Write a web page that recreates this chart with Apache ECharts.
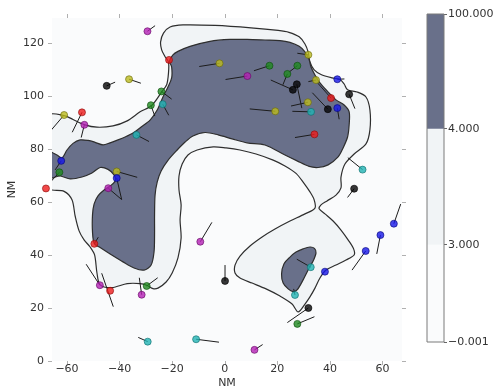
<!DOCTYPE html>
<html>
<head>
<meta charset="utf-8">
<script src="https://cdn.jsdelivr.net/npm/echarts@6/dist/echarts.min.js"></script>
<style>
  html, body { margin: 0; padding: 0; background: #ffffff; }
  #chart { width: 494px; height: 390px; }
</style>
</head>
<body>
<div id="chart"></div>
<script>
// ---- axis ticks (NM) ----
const xTicks = [-60, -40, -20, 0, 20, 40, 60];
const yTicks = [0, 20, 40, 60, 80, 100, 120];

// ---- contour levels and colour bar ----
const levelLabels = ['\u22120.001', '3.000', '4.000', '100.000'];
const levelColors = ['#fafbfc', '#f1f4f6', '#69708a'];
const cbEdges = [0, 0.84, 1.84, 2.83];   // where each level boundary sits on the bar

// ---- contour outlines, in NM ----
// level 3 (light band) outline
const level3Outline = [
  [-67,92.6],[-61.1,92.6],[-57.7,91.1],[-53.5,89.2],[-48.6,88.2],[-42.5,88.7],[-37.1,90.6],[-32.2,94.0],
  [-27.8,96.4],[-24.0,101.5],[-22.1,104.2],[-21.4,108.7],[-21.4,112.8],[-22.7,114.8],[-24.0,117.4],[-24.4,120.4],
  [-23.3,123.7],[-20.8,126.0],[-15.9,126.8],[-3.7,126.6],[10.0,125.7],[20.3,124.7],[24.4,124.0],[28.3,122.3],
  [30.5,119.6],[31.7,116.6],[32.4,112.8],[34.0,109.8],[36.6,108.1],[40.8,106.8],[43.8,106.2],[45.4,104.5],
  [46.7,102.3],[50.3,101.5],[53.7,99.6],[55.2,94.7],[55.2,87.2],[53.7,81.9],[49.2,78.1],[45.7,74.3],
  [44.2,69.4],[44.2,65.3],[42.3,62.6],[38.9,60.4],[36.6,58.9],[35.9,57.4],[38.1,55.5],[41.2,52.8],
  [44.2,49.4],[46.9,45.7],[49.0,42.3],[49.2,40.0],[46.1,38.1],[42.3,36.2],[38.5,34.3],[36.2,31.3],
  [34.3,27.5],[32.4,24.2],[30.5,21.5],[27.9,18.5],[25.6,21.5],[21.0,24.5],[15.7,27.2],[10.4,29.4],
  [5.8,31.3],[3.9,33.2],[3.9,36.2],[5.8,39.6],[9.6,43.4],[14.2,46.8],[19.1,49.8],[24.8,52.8],
  [30.5,55.5],[34.3,57.7],[34.0,60.8],[32.4,63.8],[29.8,67.5],[27.1,70.8],[22.9,73.6],[18.4,75.8],
  [11.9,78.1],[5.8,79.6],[0.5,80.4],[-4.4,80.8],[-10.5,79.6],[-14.0,77.7],[-16.2,74.3],[-17.4,69.8],
  [-17.4,64.5],[-16.6,58.9],[-17.0,53.2],[-16.6,46.4],[-17.8,38.9],[-20.0,33.2],[-22.3,29.8],[-25.4,27.5],
  [-27.3,27.3],[-29.5,28.5],[-32.2,29.2],[-37.1,29.2],[-42.9,27.7],[-47.4,28.7],[-48.6,33.2],[-49.5,40.0],
  [-51.2,43.0],[-53.5,45.7],[-55.4,49.1],[-56.9,54.7],[-58.1,60.8],[-61.1,64.0],[-67,65.3]
];
// level 4 (dark) outlines
const level4Main = [
  [-67,78.9],[-63.8,77.7],[-61.9,76.6],[-60.0,79.6],[-57.7,82.1],[-55.0,83.4],[-52.0,83.2],[-49.3,82.5],
  [-46.3,81.5],[-43.6,82.3],[-40.6,83.4],[-37.9,84.5],[-34.9,86.0],[-31.8,88.3],[-28.4,90.9],[-25.7,94.7],
  [-23.5,99.6],[-21.6,103.4],[-20.2,106.8],[-20.2,110.9],[-21.0,113.2],[-19.7,115.5],[-17.8,116.8],[-13.2,118.7],
  [-5.6,120.6],[2.0,121.3],[8.5,121.3],[15.3,121.1],[21.0,120.9],[24.8,120.2],[28.3,118.7],[30.5,116.6],
  [32.1,113.6],[32.8,110.9],[34.3,107.9],[36.2,104.9],[38.9,101.9],[42.3,98.5],[45.4,96.6],[47.3,94.0],
  [47.3,89.1],[46.7,84.5],[45.0,80.4],[43.1,77.0],[39.3,74.0],[35.5,73.0],[32.1,73.4],[27.5,75.5],
  [22.9,77.7],[15.3,81.5],[8.5,82.3],[2.8,83.8],[-2.5,85.3],[-7.5,86.2],[-12.1,84.9],[-15.1,82.6],
  [-18.1,79.6],[-21.6,75.7],[-24.2,71.7],[-25.7,67.5],[-26.5,62.6],[-26.7,55.1],[-26.7,47.5],[-26.9,41.1],
  [-28.0,36.2],[-30.7,34.3],[-34.5,35.1],[-38.7,37.4],[-43.6,40.4],[-47.4,42.8],[-49.6,44.2],[-50.3,48.7],
  [-50.3,55.1],[-49.7,59.2],[-48.2,62.3],[-45.9,64.5],[-43.6,66.0],[-41.7,67.9],[-42.1,70.2],[-44.4,72.3],
  [-47.4,73.0],[-50.5,70.9],[-54.3,69.4],[-58.8,68.7],[-62.6,69.8],[-67,69.1]
];
const level4South = [
  [29.8,42.3],[32.4,43.0],[34.1,42.5],[34.7,40.8],[33.6,37.7],[32.1,35.1],[29.8,30.6],[27.5,26.8],
  [26.0,26.2],[24.1,27.2],[22.2,29.4],[21.6,32.8],[22.5,36.6],[24.8,39.2],[27.1,41.1]
];

// ---- stations: position (NM) and colour code ----
const stationX = [-29.4,-21.2,-2.0,8.6,17.0,27.6,23.8,31.8,27.4,25.9,34.7,42.8,47.3,40.4,31.6,32.8,39.2,42.8,19.2,34.1,52.4,49.2,
  -44.9,-36.4,-24.1,-28.1,-23.6,-61.1,-54.3,-53.4,-33.6,-62.2,-62.9,-41.1,-41.1,-44.3,-68.0,-49.6,-47.5,-43.6,-29.7,-31.6,-29.3,
  -9.3,0.1,-10.9,11.3,64.3,59.2,53.6,38.1,32.7,26.7,31.8,27.6];
const stationY = [124.4,113.6,112.3,107.5,111.4,111.4,108.3,115.5,104.4,102.3,106.0,106.3,100.6,99.2,97.6,94.0,95.0,95.4,94.2,85.5,72.2,65.0,
  103.8,106.3,101.7,96.5,96.9,92.8,93.8,89.1,85.3,75.5,71.2,71.5,69.0,65.2,65.1,44.2,28.6,26.5,28.3,25.0,7.3,
  45.0,30.2,8.2,4.2,51.8,47.5,41.5,33.7,35.4,24.9,20.0,14.0];
const stationColor = ['m','r','y','m','g','g','g','y','k','k','y','b','k','r','y','c','k','b','y','r','c','k',
  'k','y','g','g','c','y','r','m','c','b','g','y','b','m','r','r','m','r','g','m','c',
  'm','k','c','m','b','b','b','b','c','c','k','g'];

// ---- wind barb strokes: [x1, y1, x2, y2] in NM ----
const barbs = [
  [-29.4,124.4,-26.5,126.5],[-2.0,112.3,-9.7,111.1],[8.6,107.5,0.3,106.2],[17.0,111.4,11.1,109.5],
  [27.6,111.4,24.6,109.1],[23.8,108.3,22.1,104.2],[31.8,115.5,27.6,116.1],[27.4,104.4,29.3,95.4],
  [25.9,102.3,17.5,106.0],[34.7,106.0,31.8,105.4],[42.8,106.3,45.5,106.4],[47.3,100.6,49.5,95.2],
  [40.4,99.2,35.4,104.8],[31.6,97.6,25.2,96.2],[32.8,94.0,25.7,94.2],[39.2,95.0,33.3,101.2],
  [42.8,95.4,43.5,91.2],[19.2,94.2,9.5,95.1],[34.1,85.5,26.7,84.3],[52.4,72.2,46.8,76.7],
  [49.2,65.0,46.7,61.7],[-44.9,103.8,-41.7,105.2],[-36.4,106.3,-31.9,104.8],[-24.1,101.7,-20.2,98.8],
  [-28.1,96.5,-26.6,92.4],[-23.6,96.9,-21.3,92.7],[-61.1,92.8,-66.0,87.1],[-54.3,93.8,-58.0,86.3],
  [-53.4,89.1,-54.6,84.3],[-33.6,85.3,-28.8,82.8],[-62.2,75.5,-64.5,72.1],[-62.9,71.2,-66.4,67.4],
  [-41.1,71.5,-33.3,69.3],[-41.1,69.0,-39.2,60.9],[-44.3,65.2,-39.2,60.9],[-49.6,44.2,-48.1,46.7],
  [-47.5,28.6,-52.7,36.5],[-46.8,33.1,-42.4,20.5],[-29.7,28.3,-25.5,31.4],[-31.6,25.0,-32.5,31.4],
  [-29.3,7.3,-32.9,8.9],[-9.3,45.0,-4.9,52.3],[0.1,30.2,0.1,36.2],[-10.9,8.2,-2.2,7.1],
  [11.3,4.2,14.4,6.2],[64.3,51.8,66.9,59.2],[59.2,47.5,57.8,40.4],[53.6,41.5,48.4,34.3],
  [32.7,35.4,27.4,38.4],[26.7,24.9,26.2,27.2],[31.8,20.0,23.8,14.5],[27.6,14.0,34.1,16.7]
];

const palette = {
  r: ['#ee1c1c', '#8e0b0b'], g: ['#1f8a1f', '#0d4f0d'], b: ['#1616e8', '#06067a'],
  c: ['#22b4b4', '#0c6e6e'], m: ['#b420b4', '#650a65'], y: ['#bcbc1e', '#6a6a0a'], k: ['#050505', '#000000']
};

function ringSeries(ring, fill) {
  return {
    type: 'custom', xAxisIndex: 0, yAxisIndex: 0, clip: true, silent: true,
    data: [[0, 0]],
    renderItem: function (params, api) {
      return {
        type: 'polygon',
        shape: { points: ring.map(p => api.coord(p)), smooth: 0.3 },
        style: { fill: fill, stroke: '#2e2e2e', lineWidth: 1.2 }
      };
    }
  };
}

const tickLabel = { color: '#333333', fontSize: 11, fontFamily: 'DejaVu Sans' };
const xRange = { min: -65.7, max: 67.4 };
const yRange = { min: 0, max: 129.4 };
const tickStyle = { color: '#b0b0b0' };

const option = {
  animation: false,
  backgroundColor: '#ffffff',
  grid: [
    { left: 52, top: 18, width: 350, height: 343, show: true, backgroundColor: levelColors[0], borderWidth: 0,
      containLabel: false, outerBoundsMode: 'none' },
    { left: 427, top: 14, width: 17, height: 328, show: false, containLabel: false, outerBoundsMode: 'none' }
  ],
  xAxis: [
    { type: 'value', gridIndex: 0, ...xRange, position: 'bottom',
      name: 'NM', nameLocation: 'middle', nameGap: 17, nameMoveOverlap: false, nameTextStyle: { ...tickLabel } ,
      axisLine: { show: false, onZero: false }, splitLine: { show: false },
      axisTick: { show: true, customValues: xTicks, length: 4, lineStyle: tickStyle },
      axisLabel: { customValues: xTicks, margin: 3, ...tickLabel, formatter: v => String(v).replace('-', '\u2212') } },
    { type: 'value', gridIndex: 0, ...xRange, position: 'top',
      axisLine: { show: false, onZero: false }, splitLine: { show: false },
      axisTick: { show: true, customValues: xTicks, length: 4, lineStyle: tickStyle },
      axisLabel: { show: false } },
    { type: 'value', gridIndex: 1, min: 0, max: 1, show: false, axisLine: { onZero: false } }
  ],
  yAxis: [
    { type: 'value', gridIndex: 0, ...yRange, position: 'left',
      name: 'NM', nameLocation: 'middle', nameGap: 34, nameRotate: 90, nameMoveOverlap: false,
      nameTextStyle: { ...tickLabel },
      axisLine: { show: false, onZero: false }, splitLine: { show: false },
      axisTick: { show: true, customValues: yTicks, length: 4, lineStyle: tickStyle },
      axisLabel: { customValues: yTicks, margin: 8, ...tickLabel } },
    { type: 'value', gridIndex: 0, ...yRange, position: 'right',
      axisLine: { show: false, onZero: false }, splitLine: { show: false },
      axisTick: { show: true, customValues: yTicks, length: 4, lineStyle: tickStyle },
      axisLabel: { show: false } },
    { type: 'value', gridIndex: 1, min: 0, max: cbEdges[cbEdges.length - 1], position: 'right',
      axisLine: { show: false, onZero: false }, splitLine: { show: false },
      axisTick: { show: true, customValues: cbEdges, length: 3, lineStyle: { color: '#666666' } },
      axisLabel: { customValues: cbEdges, margin: 4, ...tickLabel,
        formatter: v => levelLabels[cbEdges.indexOf(v)] } }
  ],
  series: [
    ringSeries(level3Outline, levelColors[1]),
    ringSeries(level4Main, levelColors[2]),
    ringSeries(level4South, levelColors[2]),
    {
      type: 'custom', xAxisIndex: 0, yAxisIndex: 0, clip: true, silent: true,
      data: barbs,
      encode: { x: [0, 2], y: [1, 3] },
      renderItem: function (params, api) {
        const a = api.coord([api.value(0), api.value(1)]);
        const b = api.coord([api.value(2), api.value(3)]);
        return { type: 'line', shape: { x1: a[0], y1: a[1], x2: b[0], y2: b[1] },
                 style: { stroke: '#1c1c1c', lineWidth: 1 } };
      }
    },
    {
      type: 'scatter', xAxisIndex: 0, yAxisIndex: 0, clip: false, silent: true,
      symbol: 'circle', symbolSize: 7,
      data: stationX.map((x, i) => ({
        value: [x, stationY[i]],
        itemStyle: { color: palette[stationColor[i]][0], borderColor: palette[stationColor[i]][1], borderWidth: 0.8 }
      }))
    },
    {
      type: 'custom', xAxisIndex: 2, yAxisIndex: 2, silent: true,
      data: [[0], [1], [2], [3]],
      renderItem: function (params, api) {
        const i = params.dataIndex;
        if (i < 3) {
          const p0 = api.coord([0, cbEdges[i + 1]]);
          const p1 = api.coord([1, cbEdges[i]]);
          return { type: 'rect', shape: { x: p0[0], y: p0[1], width: p1[0] - p0[0], height: p1[1] - p0[1] },
                   style: { fill: levelColors[i] } };
        }
        const q0 = api.coord([0, cbEdges[cbEdges.length - 1]]);
        const q1 = api.coord([1, cbEdges[0]]);
        return { type: 'rect', shape: { x: q0[0], y: q0[1], width: q1[0] - q0[0], height: q1[1] - q0[1] },
                 style: { fill: 'none', stroke: '#7a7a7a', lineWidth: 1 } };
      }
    }
  ]
};

const chart = echarts.init(document.getElementById('chart'), null, { renderer: 'canvas' });
chart.setOption(option);
</script>
</body>
</html>
